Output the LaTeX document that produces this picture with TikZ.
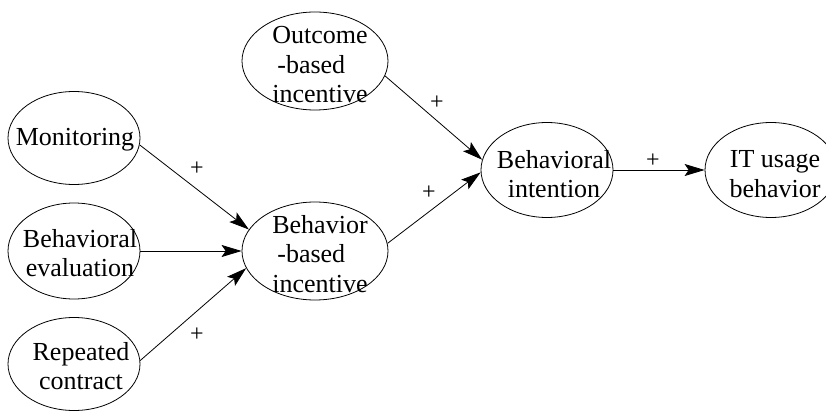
\documentclass[tikz,border=0pt]{standalone}
\usepackage{fontspec}
\setmainfont{Liberation Serif}
\usetikzlibrary{shapes.geometric,arrows.meta}
\begin{document}
\begin{tikzpicture}[x=1pt,y=1pt,
  ell/.style={draw,ellipse,inner sep=0pt,minimum width=132pt,minimum height=93pt,line width=0.8pt},
  wide/.style={minimum width=146pt,minimum height=98pt},
  lbl/.style={font=\fontsize{26}{29.5}\selectfont,align=center,inner sep=0pt},
  lbll/.style={font=\fontsize{26}{29.5}\selectfont,align=left,inner sep=0pt},
  plus/.style={font=\fontsize{24}{24}\selectfont,inner sep=0pt},
  arr/.style={line width=0.8pt,-{Stealth[length=20pt,width=12pt,inset=4pt]}}]
\useasboundingbox (0,0) rectangle (826,410);
% ellipses
\node[ell] (mon) at (74,272) {};
\node[ell,minimum height=96pt] (bev) at (74,159) {};
\node[ell] (rep) at (74,46) {};
\node[ell,wide] (obi) at (315,349) {};
\node[ell,wide] (bbi) at (315,159) {};
\node[ell,minimum height=95pt] (bi) at (547,240) {};
\node[ell,minimum height=95pt] (itu) at (771,240) {};
% texts
\node[lbl] (mon-t) at (75,270) {Monitoring};
\node[lbl] (bev-t) at (80,157) {Behavioral\\evaluation};
\node[lbl] (rep-t) at (81,44) {Repeated\\contract};
\node[lbll] (obi-t) at (320,345) {Outcome\\\hspace*{5pt}-based\\incentive};
\node[lbll] (bbi-t) at (320,156) {Behavior\\\hspace*{5pt}-based\\incentive};
\node[lbl] (bi-t) at (554,236) {Behavioral\\intention};
\node[lbl] (itu-t) at (775,236) {IT usage\\behavior};
% connectors
\draw[arr] (mon.-6) -- (bbi.162.6);
\draw[arr] (bev) -- (bbi);
\draw[arr] (rep.3.5) -- (bbi.194);
\draw[arr] (obi.-12) -- (bi.171);
\draw[arr] (bbi.6) -- (bi.182);
\draw[arr] (bi) -- (itu);
% plus signs
\node[plus] (p1) at (197,241) {+};
\node[plus] (p2) at (197,75) {+};
\node[plus] (p3) at (437,307) {+};
\node[plus] (p4) at (429,217) {+};
\node[plus] (p5) at (653,249) {+};
\end{tikzpicture}
\end{document}
